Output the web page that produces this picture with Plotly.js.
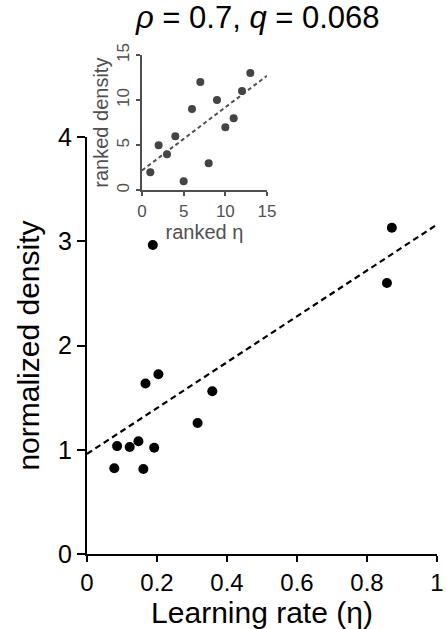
<!DOCTYPE html>
<html>
<head>
<meta charset="utf-8">
<script src="https://cdn.plot.ly/plotly-3.0.1.min.js"></script>
<style>html,body{margin:0;padding:0;background:#fff;}#chart{width:446px;height:629px;}</style>
</head>
<body>
<div id="chart"></div>
<script>
// Main data: learning rate vs normalized density
const eta = [0.078, 0.086, 0.122, 0.147, 0.161, 0.167, 0.188, 0.192, 0.204, 0.316, 0.358, 0.857, 0.871];
const density = [0.822, 1.035, 1.026, 1.081, 0.815, 1.635, 2.965, 1.019, 1.725, 1.257, 1.561, 2.600, 3.129];
// Linear fit (endpoints)
const fitX = [0, 1];
const fitY = [0.96, 3.16];
// Inset: ranked data
const rankEta = [1, 2, 3, 4, 5, 6, 7, 8, 9, 10, 11, 12, 13];
const rankDensity = [2, 5, 4, 6, 1, 9, 12, 3, 10, 7, 8, 11, 13];
const rankFitX = [0, 15];
const rankFitY = [2.2, 12.7];
const mainTicksX = [0, 0.2, 0.4, 0.6, 0.8, 1];
const mainTickTextX = ['0', '0.2', '0.4', '0.6', '0.8', '1'];
const mainTicksY = [0, 1, 2, 3, 4];
const insetTicks = [0, 5, 10, 15];

const FONT = 'Liberation Sans, Arial, sans-serif';
const GRAY = '#505050';

const traces = [
  {x: fitX, y: fitY, mode: 'lines', type: 'scatter', xaxis: 'x', yaxis: 'y',
   line: {color: '#000', width: 2.2, dash: '6px,4px'}, hoverinfo: 'skip', cliponaxis: false},
  {x: eta, y: density, mode: 'markers', type: 'scatter', xaxis: 'x', yaxis: 'y',
   marker: {color: '#000', size: 10}, cliponaxis: false},
  {x: rankFitX, y: rankFitY, mode: 'lines', type: 'scatter', xaxis: 'x2', yaxis: 'y2',
   line: {color: GRAY, width: 2, dash: '4px,3px'}, hoverinfo: 'skip', cliponaxis: false},
  {x: rankEta, y: rankDensity, mode: 'markers', type: 'scatter', xaxis: 'x2', yaxis: 'y2',
   marker: {color: '#444', size: 8}, cliponaxis: false}
];

const layout = {
  width: 446, height: 629,
  margin: {l: 87, r: 9, t: 40, b: 75},
  paper_bgcolor: '#fff', plot_bgcolor: 'rgba(0,0,0,0)',
  showlegend: false,
  font: {family: FONT, color: '#000'},
  title: {text: '<i>ρ</i> = 0.7, <i>q</i> = 0.068', font: {size: 31, family: FONT, color: '#000'},
          x: 0.578, xanchor: 'center', xref: 'container', y: 0.972, yanchor: 'middle', yref: 'container'},
  xaxis: {
    domain: [0, 1], range: [0, 1], tickvals: mainTicksX, ticktext: mainTickTextX,
    showgrid: false, zeroline: false, showline: true, linecolor: '#000', linewidth: 2,
    ticks: 'outside', ticklen: 6, tickwidth: 2, tickcolor: '#000',
    tickfont: {size: 24, family: FONT, color: '#000'},
    title: {text: 'Learning rate (η)', font: {size: 30, family: FONT, color: '#000'}, standoff: 2},
    anchor: 'y'
  },
  yaxis: {
    domain: [0, 0.8112], range: [0, 4], tickvals: mainTicksY,
    showgrid: false, zeroline: false, showline: true, linecolor: '#000', linewidth: 2,
    ticks: 'outside', ticklen: 8, tickwidth: 2, tickcolor: '#000',
    tickfont: {size: 25, family: FONT, color: '#000'},
    title: {text: 'normalized density', font: {size: 30, family: FONT, color: '#000'}, standoff: 10},
    anchor: 'x'
  },
  xaxis2: {
    domain: [0.1571, 0.5143], range: [0, 15], tickvals: insetTicks,
    showgrid: false, zeroline: false, showline: true, linecolor: GRAY, linewidth: 2,
    ticks: 'outside', ticklen: 4, tickwidth: 2, tickcolor: GRAY,
    tickfont: {size: 17, family: FONT, color: GRAY},
    title: {text: 'ranked η', font: {size: 20, family: FONT, color: GRAY}, standoff: 0},
    anchor: 'y2'
  },
  yaxis2: {
    domain: [0.7076, 0.9708], range: [0, 15], tickvals: insetTicks, tickangle: -90,
    showgrid: false, zeroline: false, showline: true, linecolor: GRAY, linewidth: 2,
    ticks: 'outside', ticklen: 4, tickwidth: 2, tickcolor: GRAY,
    tickfont: {size: 17, family: FONT, color: GRAY},
    title: {text: 'ranked density', font: {size: 20, family: FONT, color: GRAY}, standoff: 0},
    anchor: 'x2'
  }
};

Plotly.newPlot('chart', traces, layout, {staticPlot: true, displayModeBar: false});
</script>
</body>
</html>
